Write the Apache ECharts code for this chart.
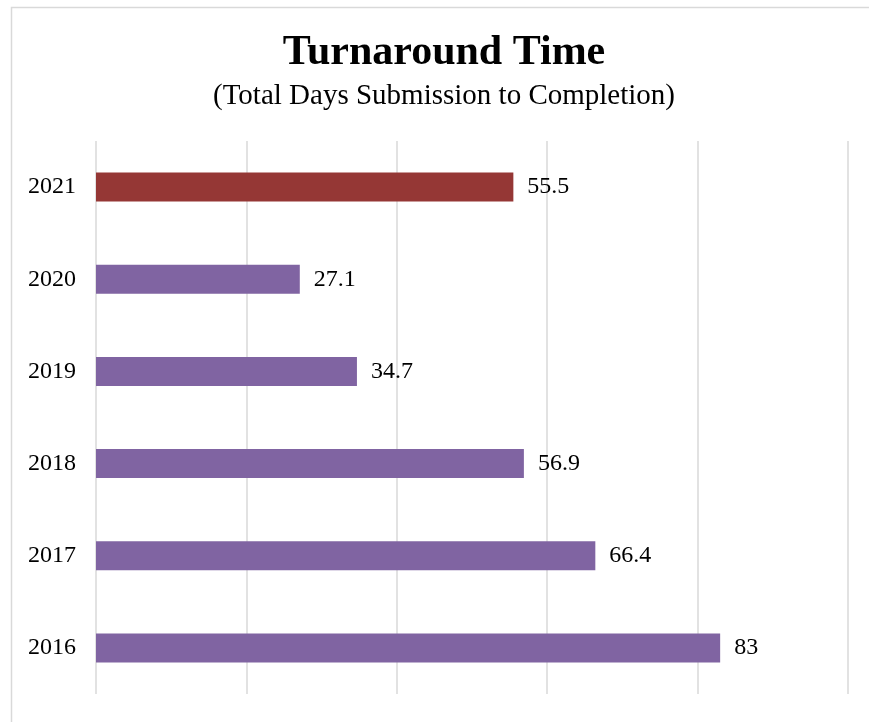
<!DOCTYPE html>
<html>
<head>
<meta charset="utf-8">
<script src="https://cdn.jsdelivr.net/npm/echarts@6/dist/echarts.min.js"></script>
<style>
  html, body { margin: 0; padding: 0; background: #ffffff; }
  #chart { width: 869px; height: 722px; }
</style>
</head>
<body>
<div id="chart"></div>
<script>
// Turnaround time per year, in days from submission to completion
const years = ['2016', '2017', '2018', '2019', '2020', '2021'];
const days = [83, 66.4, 56.9, 34.7, 27.1, 55.5];
const barColors = ['#8064A2', '#8064A2', '#8064A2', '#8064A2', '#8064A2', '#953735'];
const axisMax = 100;
const axisStep = 20;

const serif = '"Liberation Serif", "Times New Roman", serif';

const chart = echarts.init(document.getElementById('chart'), null, { renderer: 'canvas' });

chart.setOption({
  backgroundColor: '#ffffff',
  animation: false,
  graphic: [{
    type: 'rect',
    left: 9, top: 5,
    shape: { width: 880, height: 740 },
    style: { fill: 'none', stroke: '#d9d9d9', lineWidth: 1.5 },
    silent: true
  }],
  title: [{
    text: 'Turnaround Time',
    left: 439,
    textAlign: 'center',
    top: 27,
    textStyle: { fontFamily: serif, fontSize: 42, fontWeight: 'bold', color: '#000000' }
  }, {
    text: '(Total Days Submission to Completion)',
    left: 439,
    textAlign: 'center',
    top: 77,
    textStyle: { fontFamily: serif, fontSize: 29, fontWeight: 'normal', color: '#000000' }
  }],
  grid: { left: 96, right: 21, top: 141, bottom: 28, containLabel: false },
  xAxis: {
    type: 'value',
    min: 0,
    max: axisMax,
    interval: axisStep,
    axisLine: { show: false },
    axisTick: { show: false },
    axisLabel: { show: false },
    splitLine: { show: true, lineStyle: { color: '#d9d9d9', width: 1.5 } }
  },
  yAxis: {
    type: 'category',
    data: years,
    axisLine: { show: false },
    axisTick: { show: false },
    axisLabel: { fontFamily: serif, fontSize: 24, color: '#000000', margin: 20 }
  },
  series: [{
    type: 'bar',
    data: days.map((v, i) => ({ value: v, itemStyle: { color: barColors[i] } })),
    barWidth: 29,
    label: {
      show: true,
      position: 'right',
      distance: 14,
      fontFamily: serif,
      fontSize: 24,
      color: '#000000'
    }
  }]
});
</script>
</body>
</html>
